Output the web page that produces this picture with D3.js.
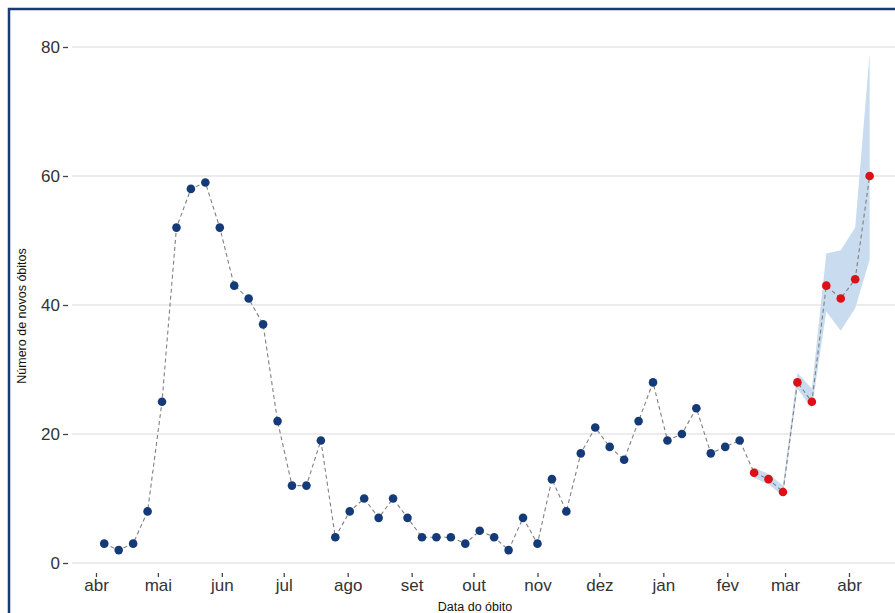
<!DOCTYPE html>
<html>
<head>
<meta charset="utf-8">
<script src="https://cdn.jsdelivr.net/npm/d3@7"></script>
<style>
  html, body { margin: 0; padding: 0; background: #ffffff; }
  svg { display: block; font-family: "Liberation Sans", Arial, sans-serif; }
</style>
</head>
<body>
<svg id="chart" width="895" height="613"></svg>
<script>
// Weekly new deaths, first week starting 2020-04-05
const firstWeek = new Date(2020, 3, 5);

// Consolidated weeks
const observed = [3, 2, 3, 8, 25, 52, 58, 59, 52, 43, 41, 37, 22, 12, 12, 19, 4, 8, 10, 7,
                  10, 7, 4, 4, 4, 3, 5, 4, 2, 7, 3, 13, 8, 17, 21, 18, 16, 22, 28, 19,
                  20, 24, 17, 18, 19];
// Recent weeks still being completed (nowcast) with their interval
const estimated = [14, 13, 11, 28, 25, 43, 41, 44, 60];
const estLower  = [13.2, 12.2, 10.4, 27, 24, 39, 36, 39.5, 47];
const estUpper  = [14.8, 13.8, 12, 29.5, 27, 48, 48.5, 52, 79];

const yTicks = [0, 20, 40, 60, 80];
const monthLabels = ["abr", "mai", "jun", "jul", "ago", "set", "out", "nov", "dez", "jan", "fev", "mar", "abr"];
const monthStarts = monthLabels.map((_, i) => new Date(2020, 3 + i, 1));

const svg = d3.select("#chart");

const x = d3.scaleTime()
  .domain([new Date(2020, 3, 1), new Date(2021, 3, 1)])
  .range([96, 849]);
const y = d3.scaleLinear().domain([0, 80]).range([563, 47]);

const weekDate = i => d3.timeDay.offset(firstWeek, 7 * i);

const obsData = observed.map((v, i) => ({ date: weekDate(i), value: v }));
const estData = estimated.map((v, i) => ({
  date: weekDate(observed.length + i), value: v,
  lo: estLower[i], hi: estUpper[i]
}));
const allData = obsData.concat(estData);

// Horizontal grid
svg.append("g")
  .selectAll("line")
  .data(yTicks)
  .join("line")
  .attr("x1", 72).attr("x2", 895)
  .attr("y1", d => y(d)).attr("y2", d => y(d))
  .attr("stroke", "#e6e6e6")
  .attr("stroke-width", 1.3);

// Y axis (labels and short ticks, no domain line)
const yAxis = svg.append("g")
  .attr("transform", "translate(68,0)")
  .call(d3.axisLeft(y).tickValues(yTicks).tickSize(5).tickPadding(3));
yAxis.select(".domain").remove();
yAxis.selectAll("line").attr("stroke", "#444").attr("stroke-width", 1.3);
yAxis.selectAll("text").attr("font-size", 17).attr("fill", "#333")
  .attr("font-family", "Liberation Sans, Arial, sans-serif");

// X axis
const xAxis = svg.append("g")
  .attr("transform", "translate(0,573)")
  .call(d3.axisBottom(x).tickValues(monthStarts)
    .tickFormat((d, i) => monthLabels[i]).tickSize(4).tickPadding(2));
xAxis.select(".domain").remove();
xAxis.selectAll("line").attr("stroke", "#444").attr("stroke-width", 1.3);
xAxis.selectAll("text").attr("font-size", 17).attr("fill", "#333")
  .attr("font-family", "Liberation Sans, Arial, sans-serif");

// Axis titles
svg.append("text")
  .attr("x", 475).attr("y", 611)
  .attr("text-anchor", "middle")
  .attr("font-size", 12.5).attr("fill", "#111")
  .text("Data do óbito");

svg.append("text")
  .attr("transform", "translate(26,316) rotate(-90)")
  .attr("text-anchor", "middle")
  .attr("font-size", 12.5).attr("fill", "#111")
  .text("Número de novos óbitos");

// Nowcast interval band
svg.append("path")
  .datum(estData)
  .attr("fill", "#c8dbef")
  .attr("d", d3.area()
    .x(d => x(d.date))
    .y0(d => y(d.lo))
    .y1(d => y(d.hi)));

// Dashed connecting line
svg.append("path")
  .datum(allData)
  .attr("fill", "none")
  .attr("stroke", "#808080")
  .attr("stroke-width", 1.1)
  .attr("stroke-dasharray", "4,3")
  .attr("d", d3.line().x(d => x(d.date)).y(d => y(d.value)));

// Points
svg.append("g")
  .selectAll("circle")
  .data(obsData)
  .join("circle")
  .attr("cx", d => x(d.date)).attr("cy", d => y(d.value))
  .attr("r", 4.3)
  .attr("fill", "#143b78");

svg.append("g")
  .selectAll("circle")
  .data(estData)
  .join("circle")
  .attr("cx", d => x(d.date)).attr("cy", d => y(d.value))
  .attr("r", 4.3)
  .attr("fill", "#dd1016");

// Frame
svg.append("rect")
  .attr("x", 9).attr("y", 9)
  .attr("width", 900).attr("height", 620)
  .attr("fill", "none")
  .attr("stroke", "#1b3a78")
  .attr("stroke-width", 2.5);
</script>
</body>
</html>
